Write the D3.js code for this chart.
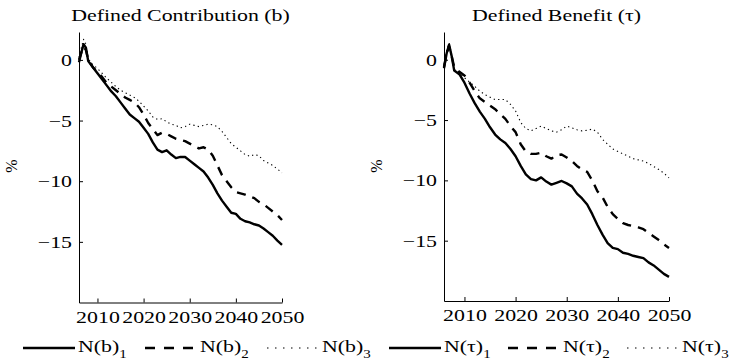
<!DOCTYPE html>
<html>
<head>
<meta charset="utf-8">
<script src="https://cdn.jsdelivr.net/npm/d3@7"></script>
<style>
  body { margin: 0; background: #fff; }
  text { font-family: "Liberation Serif", "Times New Roman", serif; fill: #000; }
</style>
</head>
<body>
<script>
'use strict';

const years = [2006, 2006.5, 2007, 2007.5, 2008, 2009, 2010, 2011, 2012, 2013, 2014, 2015,
  2016, 2017, 2018, 2019, 2020, 2021, 2022, 2023, 2024, 2025, 2026, 2027, 2028, 2029, 2030,
  2031, 2032, 2033, 2034, 2035, 2036, 2037, 2038, 2039, 2040, 2041, 2042, 2043, 2044, 2045,
  2046, 2047, 2048, 2049, 2050];

// Defined contribution (b)
const nb1 = [-0.2, 0.6, 1.3, 1.0, -0.1, -0.6, -1.1, -1.6, -2.1, -2.6, -3.0, -3.5,
  -4.0, -4.5, -4.8, -5.1, -5.6, -6.1, -6.8, -7.4, -7.6, -7.45, -7.8, -8.1, -8.0, -8.0, -8.3,
  -8.6, -8.9, -9.2, -9.7, -10.3, -11.0, -11.6, -12.1, -12.6, -12.7, -13.1, -13.3, -13.4, -13.55, -13.65,
  -13.9, -14.2, -14.5, -14.9, -15.25];
const nb2 = [0, 0.6, 1.1, 0.8, 0, -0.6, -1.0, -1.4, -1.9, -2.2, -2.5, -2.8,
  -3.1, -3.3, -3.5, -3.9, -4.5, -5.2, -5.7, -6.2, -6.0, -6.1, -6.3, -6.5, -6.6, -6.7, -6.9,
  -7.1, -7.3, -7.2, -7.4, -7.9, -8.7, -9.5, -10.0, -10.5, -10.9, -11.0, -11.1, -11.25, -11.4, -11.7,
  -11.9, -12.2, -12.5, -12.8, -13.2];
const nb3 = [0.2, 1.0, 1.7, 1.3, 0.1, -0.4, -0.7, -1.1, -1.5, -1.85, -2.2, -2.5,
  -2.7, -2.9, -3.1, -3.4, -3.8, -4.2, -4.7, -4.9, -4.85, -5.1, -5.3, -5.4, -5.6, -5.5, -5.3,
  -5.4, -5.5, -5.4, -5.3, -5.35, -5.5, -5.9, -6.4, -6.9, -7.2, -7.5, -7.8, -7.95, -7.8, -7.9,
  -8.3, -8.5, -8.7, -9.0, -9.3];

// Defined benefit (tau)
const nt1 = [-0.7, 0.5, 1.25, 0.3, -0.9, -1.2, -1.9, -2.8, -3.6, -4.3, -4.9, -5.6,
  -6.2, -6.6, -6.9, -7.4, -8.0, -8.8, -9.5, -9.9, -10.0, -9.75, -10.1, -10.35, -10.2, -10.05, -10.25,
  -10.5, -11.1, -11.5, -12.0, -12.8, -13.7, -14.5, -15.2, -15.6, -15.7, -16.0, -16.1, -16.25, -16.35, -16.45,
  -16.8, -17.05, -17.4, -17.75, -18.0];
const nt2 = [-0.6, 0.5, 1.1, 0.3, -0.6, -1.0, -1.3, -1.9, -2.6, -3.2, -3.5, -3.8,
  -4.1, -4.5, -4.9, -5.5, -6.0, -7.0, -7.6, -7.8, -7.8, -7.7, -8.0, -8.2, -7.9, -7.85, -8.1,
  -8.4, -8.8, -9.1, -9.3, -10.0, -10.9, -11.4, -12.2, -12.8, -13.2, -13.55, -13.7, -13.8, -13.9, -14.05,
  -14.35, -14.65, -14.95, -15.3, -15.6];
const nt3 = [-0.4, 0.7, 1.4, 0.5, -0.8, -1.1, -1.5, -1.85, -2.2, -2.6, -2.9, -3.1,
  -3.3, -3.3, -3.3, -3.7, -4.25, -5.2, -5.7, -5.9, -5.7, -5.5, -5.7, -5.9, -6.0, -5.8, -5.5,
  -5.65, -5.8, -5.9, -5.85, -5.75, -6.0, -6.6, -7.0, -7.4, -7.6, -7.8, -8.0, -8.2, -8.3, -8.4,
  -8.6, -8.85, -9.1, -9.4, -9.8];

const xTicks = [2010, 2020, 2030, 2040, 2050];
const yTicks = [0, -5, -10, -15];
const titles = ["Defined Contribution (b)", "Defined Benefit (\u03c4)"];
const legendNames = [["N(b)", "N(b)", "N(b)"], ["N(\u03c4)", "N(\u03c4)", "N(\u03c4)"]];

// the picture is stretched sideways, so text is too
const STRETCH = 1.25;
const FONT = 17.5;
const styles = [
  {width: 2.4, dash: null, key: null},
  {width: 2.4, dash: "9,7", key: "10,9"},
  {width: 1.1, dash: "1.3,3.2", key: "1.5,6.5"}
];

const svg = d3.select('body').append('svg')
    .attr('width', 736)
    .attr('height', 363);

function stretched(sel) {
    sel.attr('transform', function() {
        const t = d3.select(this).attr('transform') || '';
        return t + ` scale(${STRETCH},1)`;
    });
}

function panel(p) {
    const x = d3.scaleLinear().domain([2006, 2050]).range([p.x0, p.x1]);
    const y = d3.scaleLinear().domain([-20, 2.3]).range([p.y1, 32]);
    const g = svg.append('g');

    g.append('text')
        .attr('transform', `translate(${(p.x0 + p.x1) / 2},21)`)
        .attr('text-anchor', 'middle')
        .style('font-size', FONT + 'px')
        .text(p.title)
        .call(stretched);

    const yAxis = g.append('g')
        .attr('transform', `translate(${p.x0},0)`)
        .call(d3.axisLeft(y).tickValues(yTicks).tickSize(-4).tickSizeOuter(0).tickFormat(d3.format('d')));
    yAxis.selectAll('text')
        .attr('x', -7 / STRETCH)
        .style('font-size', FONT + 'px')
        .style('font-family', '"Liberation Serif", serif')
        .call(stretched);

    const xAxis = g.append('g')
        .attr('transform', `translate(0,${p.y1})`)
        .call(d3.axisBottom(x).tickValues(xTicks).tickSize(-4).tickSizeOuter(0).tickPadding(8).tickFormat(d3.format('d')));
    xAxis.selectAll('text')
        .style('font-size', FONT + 'px')
        .style('font-family', '"Liberation Serif", serif')
        .call(stretched);
    g.selectAll('.domain').attr('stroke', '#000').attr('stroke-width', 1);
    g.selectAll('.tick line').attr('stroke', '#000');

    g.append('text')
        .attr('transform', `translate(${p.x0 - 62},166) rotate(-90)`)
        .attr('text-anchor', 'middle')
        .style('font-size', '16px')
        .text('%');

    const line = d3.line().x((d, i) => x(years[i])).y(d => y(d));
    p.series.forEach((s, k) => {
        g.append('path')
            .datum(s)
            .attr('d', line)
            .attr('fill', 'none')
            .attr('stroke', '#000')
            .attr('stroke-width', styles[k].width)
            .attr('stroke-dasharray', styles[k].dash)
            .attr('stroke-linejoin', 'round');
    });

    // legend under the panel
    p.names.forEach((name, k) => {
        const lx = p.legendX + k * p.legendStep;
        g.append('line')
            .attr('x1', lx).attr('x2', lx + 52)
            .attr('y1', 348).attr('y2', 348)
            .attr('stroke', '#000')
            .attr('stroke-width', styles[k].width)
            .attr('stroke-dasharray', styles[k].key);
        const t = g.append('text')
            .attr('transform', `translate(${lx + 55},352)`)
            .style('font-size', FONT + 'px');
        t.append('tspan').text(name);
        t.append('tspan').attr('dy', 6).style('font-size', '12px').text(k + 1);
        t.call(stretched);
    });
}

panel({x0: 79, x1: 282, y1: 302.5, title: titles[0], series: [nb1, nb2, nb3],
    names: legendNames[0], legendX: 23, legendStep: 122});
panel({x0: 444, x1: 669, y1: 301, title: titles[1], series: [nt1, nt2, nt3],
    names: legendNames[1], legendX: 389, legendStep: 119});
</script>
</body>
</html>
